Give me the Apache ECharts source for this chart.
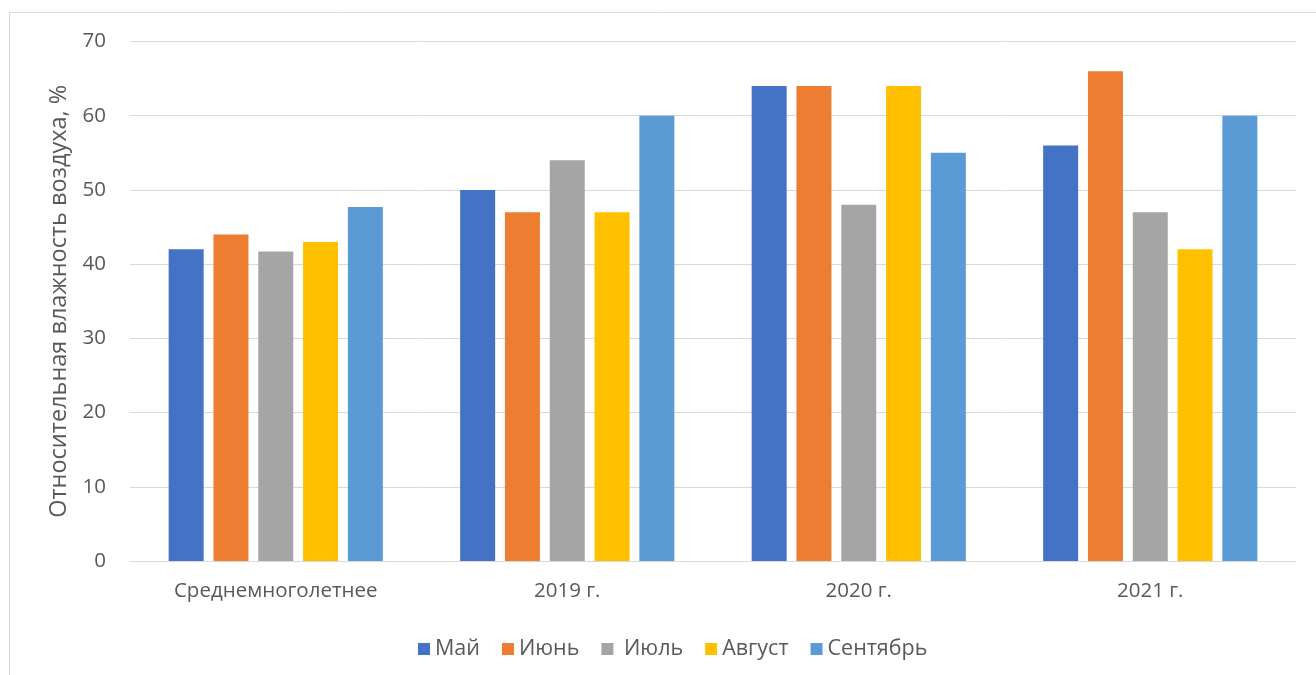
<!DOCTYPE html>
<html><head><meta charset="utf-8">
<script src="https://cdn.jsdelivr.net/npm/echarts@6/dist/echarts.min.js"></script>
<style>html,body{margin:0;padding:0;background:#fff;}#c{width:1316px;height:675px;}</style>
</head><body><div id="c"></div>
<script>
const categories = ['Среднемноголетнее', '2019 г.', '2020 г.', '2021 г.'];
const seriesNames = ['Май', 'Июнь', 'Июль', 'Август', 'Сентябрь'];
const may = [42, 50, 64, 56];
const june = [44, 47, 64, 66];
const july = [41.7, 54, 48, 47];
const august = [43, 47, 64, 42];
const september = [47.7, 60, 55, 60];
const yTicks = [0, 10, 20, 30, 40, 50, 60, 70];
const colors = ['#4472C4', '#ED7D31', '#A5A5A5', '#FFC000', '#5B9BD5'];
const values = [may, june, july, august, september];

const font = 'Open Sans';
const chart = echarts.init(document.getElementById('c'));
chart.setOption({
  animation: false,
  color: colors,
  textStyle: { fontFamily: font, color: '#595959' },
  graphic: [{ type: 'rect', shape: { x: 9.5, y: 12.5, width: 1400, height: 700 }, style: { fill: 'none', stroke: '#d9d9d9', lineWidth: 1 }, z: -1 }],
  grid: { left: 130, right: 20, top: 41.5, bottom: 114 },
  legend: {
    data: seriesNames, left: 413, top: 633,
    itemWidth: 12, itemHeight: 12, itemGap: 22, icon: 'rect',
    formatter: n => n === 'Июль' ? ' ' + n : n,
    textStyle: { fontFamily: font, fontSize: 21.5, color: '#595959', padding: [0, 0, 0, 0] }
  },
  xAxis: {
    type: 'category', data: categories,
    axisLine: { lineStyle: { color: '#d9d9d9', width: 1 } },
    axisTick: { show: false },
    axisLabel: { fontFamily: font, fontSize: 20.5, color: '#595959', margin: 20 }
  },
  yAxis: {
    type: 'value', min: yTicks[0], max: yTicks[yTicks.length - 1], interval: 10,
    name: 'Относительная влажность воздуха, %', nameLocation: 'middle', nameGap: 57,
    nameTextStyle: { fontFamily: font, fontSize: 23.5, color: '#595959' },
    axisLine: { show: false }, axisTick: { show: false },
    axisLabel: { fontFamily: font, fontSize: 20.5, color: '#595959', margin: 24 },
    splitLine: { lineStyle: { color: '#d9d9d9', width: 1 } }
  },
  series: seriesNames.map((n, i) => ({
    name: n, type: 'bar', data: values[i], barWidth: 35, barGap: '28%',
    itemStyle: { color: colors[i] }
  }))
});
</script></body></html>
